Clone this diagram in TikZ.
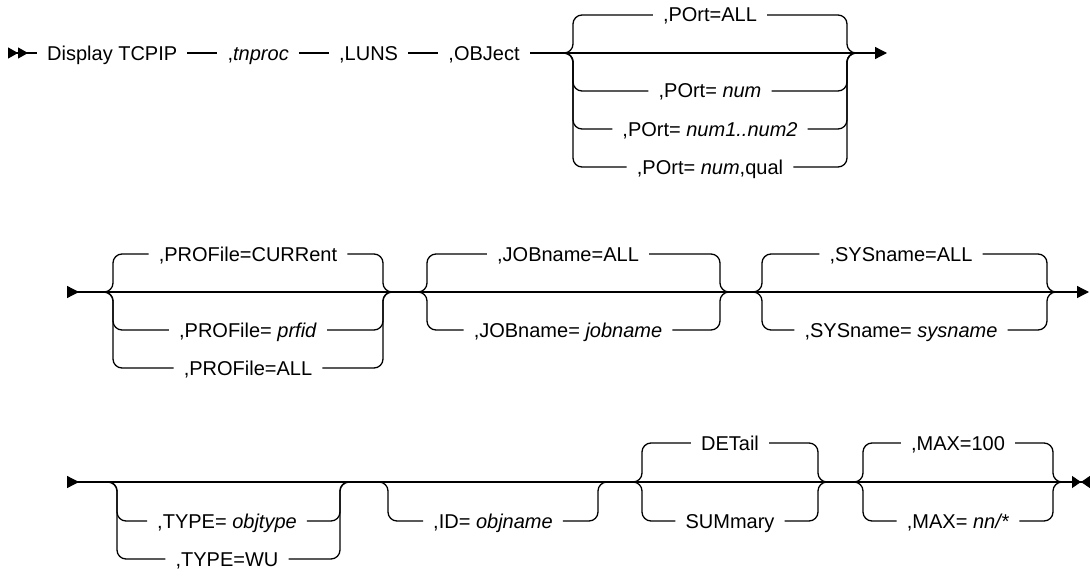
\documentclass[tikz,border=0pt]{standalone}
\usepackage{fontspec}
\setmainfont{Liberation Sans}
\usetikzlibrary{positioning,arrows.meta}

\begin{document}
\begin{tikzpicture}[
            x=1pt, y=-1pt,
            node distance=30pt,
            lbl/.style={inner xsep=10pt, inner ysep=0pt, text height=16pt, text depth=2pt, font=\fontsize{20}{24}\selectfont},
            rail/.style={line width=1.3pt},
            branch/.style={rail, rounded corners=9pt},
            begin/.style={rail, {Triangle[length=10pt,width=11pt,reversed]Triangle[length=10pt,width=11pt,reversed]}-},
            cont/.style={rail, {Triangle[length=12pt,width=12pt,reversed]}-},
            arrow/.style={rail, -{Triangle[length=12pt,width=12pt]}},
            finish/.style={rail, -{Triangle[length=9pt,width=12pt]Triangle[length=9pt,width=12pt,reversed]}}
        ]
            \useasboundingbox (0,0) rectangle (1090,578);

            % row 1
            \coordinate (s1) at (8,53);
            \node[lbl, anchor=west] (disp) at (37,53) {Display TCPIP};
            \node[lbl, right=of disp] (tnproc) {,\textit{tnproc}};
            \node[lbl, right=of tnproc] (luns) {,LUNS};
            \node[lbl, right=of luns] (objct) {,OBJect};
            \coordinate (po-in) at (573,53);
            \coordinate (po-out) at (847,53);
            \coordinate (e1) at (887,53);
            \node[lbl] (poall) at (710,15) {,POrt=ALL};
            \node[lbl] (ponum) at (710,91) {,POrt= \textit{num}};
            \node[lbl] (porng) at (710,129) {,POrt= \textit{num1..num2}};
            \node[lbl] (poqual) at (710,167) {,POrt= \textit{num},qual};

            \draw[begin] (s1) -- (disp);
            \draw[rail] (disp) -- (tnproc);
            \draw[rail] (tnproc) -- (luns);
            \draw[rail] (luns) -- (objct);
            \draw[arrow] (objct) -- (po-in) -- (po-out) -- (e1);
            \draw[branch] ([xshift=-9pt]po-in) -- (po-in) -- (po-in |- poall) -- (poall.west);
            \draw[branch] (poall.east) -- (po-out |- poall) -- (po-out) -- ([xshift=9pt]po-out);
            \draw[branch] ([xshift=-9pt]po-in) -- (po-in) -- (po-in |- ponum) -- (ponum.west);
            \draw[branch] (ponum.east) -- (po-out |- ponum) -- (po-out) -- ([xshift=9pt]po-out);
            \draw[branch] ([xshift=-9pt]po-in) -- (po-in) -- (po-in |- porng) -- (porng.west);
            \draw[branch] (porng.east) -- (po-out |- porng) -- (po-out) -- ([xshift=9pt]po-out);
            \draw[branch] ([xshift=-9pt]po-in) -- (po-in) -- (po-in |- poqual) -- (poqual.west);
            \draw[branch] (poqual.east) -- (po-out |- poqual) -- (po-out) -- ([xshift=9pt]po-out);

            % row 2
            \coordinate (s2) at (67,292);
            \coordinate (pf-in) at (113,292);
            \coordinate (pf-out) at (383,292);
            \coordinate (jb-in) at (427,292);
            \coordinate (jb-out) at (720,292);
            \coordinate (sy-in) at (762,292);
            \coordinate (sy-out) at (1047,292);
            \coordinate (e2) at (1089,292);
            \node[lbl] (pfcur) at (248,254) {,PROFile=CURRent};
            \node[lbl] (pfid) at (248,330) {,PROFile= \textit{prfid}};
            \node[lbl] (pfall) at (248,368) {,PROFile=ALL};
            \node[lbl] (jball) at (568,254) {,JOBname=ALL};
            \node[lbl] (jbname) at (568,330) {,JOBname= \textit{jobname}};
            \node[lbl] (syall) at (901,254) {,SYSname=ALL};
            \node[lbl] (syname) at (901,330) {,SYSname= \textit{sysname}};

            \draw[cont] (s2) -- (pf-in);
            \draw[arrow] (pf-in) -- (pf-out) -- (jb-in) -- (jb-out) -- (sy-in) -- (sy-out) -- (e2);
            \draw[branch] ([xshift=-9pt]pf-in) -- (pf-in) -- (pf-in |- pfcur) -- (pfcur.west);
            \draw[branch] (pfcur.east) -- (pf-out |- pfcur) -- (pf-out) -- ([xshift=9pt]pf-out);
            \draw[branch] ([xshift=-9pt]pf-in) -- (pf-in) -- (pf-in |- pfid) -- (pfid.west);
            \draw[branch] (pfid.east) -- (pf-out |- pfid) -- (pf-out) -- ([xshift=9pt]pf-out);
            \draw[branch] ([xshift=-9pt]pf-in) -- (pf-in) -- (pf-in |- pfall) -- (pfall.west);
            \draw[branch] (pfall.east) -- (pf-out |- pfall) -- (pf-out) -- ([xshift=9pt]pf-out);
            \draw[branch] ([xshift=-9pt]jb-in) -- (jb-in) -- (jb-in |- jball) -- (jball.west);
            \draw[branch] (jball.east) -- (jb-out |- jball) -- (jb-out) -- ([xshift=9pt]jb-out);
            \draw[branch] ([xshift=-9pt]jb-in) -- (jb-in) -- (jb-in |- jbname) -- (jbname.west);
            \draw[branch] (jbname.east) -- (jb-out |- jbname) -- (jb-out) -- ([xshift=9pt]jb-out);
            \draw[branch] ([xshift=-9pt]sy-in) -- (sy-in) -- (sy-in |- syall) -- (syall.west);
            \draw[branch] (syall.east) -- (sy-out |- syall) -- (sy-out) -- ([xshift=9pt]sy-out);
            \draw[branch] ([xshift=-9pt]sy-in) -- (sy-in) -- (sy-in |- syname) -- (syname.west);
            \draw[branch] (syname.east) -- (sy-out |- syname) -- (sy-out) -- ([xshift=9pt]sy-out);

            % row 3
            \coordinate (s3) at (67,482);
            \coordinate (ty-in) at (117,482);
            \coordinate (ty-out) at (340,482);
            \coordinate (id-in) at (388,482);
            \coordinate (id-out) at (598,482);
            \coordinate (dt-in) at (642,482);
            \coordinate (dt-out) at (818,482);
            \coordinate (mx-in) at (863,482);
            \coordinate (mx-out) at (1053,482);
            \coordinate (e3) at (1090,482);
            \node[lbl] (tyobj) at (227,521) {,TYPE= \textit{objtype}};
            \node[lbl] (tywu) at (227,559) {,TYPE=WU};
            \node[lbl] (idobj) at (493,521) {,ID= \textit{objname}};
            \node[lbl] (det) at (730,443) {DETail};
            \node[lbl] (summ) at (730,521) {SUMmary};
            \node[lbl] (mxdef) at (958,443) {,MAX=100};
            \node[lbl] (mxnn) at (958,521) {,MAX= \textit{nn/*}};

            \draw[cont] (s3) -- (ty-in);
            \draw[finish] (ty-in) -- (ty-out) -- (id-in) -- (id-out) -- (dt-in) -- (dt-out) -- (mx-in) -- (mx-out) -- (e3);
            \draw[branch] ([xshift=-9pt]ty-in) -- (ty-in) -- (ty-in |- tyobj) -- (tyobj.west);
            \draw[branch] (tyobj.east) -- (ty-out |- tyobj) -- (ty-out) -- ([xshift=9pt]ty-out);
            \draw[branch] ([xshift=-9pt]ty-in) -- (ty-in) -- (ty-in |- tywu) -- (tywu.west);
            \draw[branch] (tywu.east) -- (ty-out |- tywu) -- (ty-out) -- ([xshift=9pt]ty-out);
            \draw[branch] ([xshift=-9pt]id-in) -- (id-in) -- (id-in |- idobj) -- (idobj.west);
            \draw[branch] (idobj.east) -- (id-out |- idobj) -- (id-out) -- ([xshift=9pt]id-out);
            \draw[branch] ([xshift=-9pt]dt-in) -- (dt-in) -- (dt-in |- det) -- (det.west);
            \draw[branch] (det.east) -- (dt-out |- det) -- (dt-out) -- ([xshift=9pt]dt-out);
            \draw[branch] ([xshift=-9pt]dt-in) -- (dt-in) -- (dt-in |- summ) -- (summ.west);
            \draw[branch] (summ.east) -- (dt-out |- summ) -- (dt-out) -- ([xshift=9pt]dt-out);
            \draw[branch] ([xshift=-9pt]mx-in) -- (mx-in) -- (mx-in |- mxdef) -- (mxdef.west);
            \draw[branch] (mxdef.east) -- (mx-out |- mxdef) -- (mx-out) -- ([xshift=9pt]mx-out);
            \draw[branch] ([xshift=-9pt]mx-in) -- (mx-in) -- (mx-in |- mxnn) -- (mxnn.west);
            \draw[branch] (mxnn.east) -- (mx-out |- mxnn) -- (mx-out) -- ([xshift=9pt]mx-out);
        \end{tikzpicture}
\end{document}
